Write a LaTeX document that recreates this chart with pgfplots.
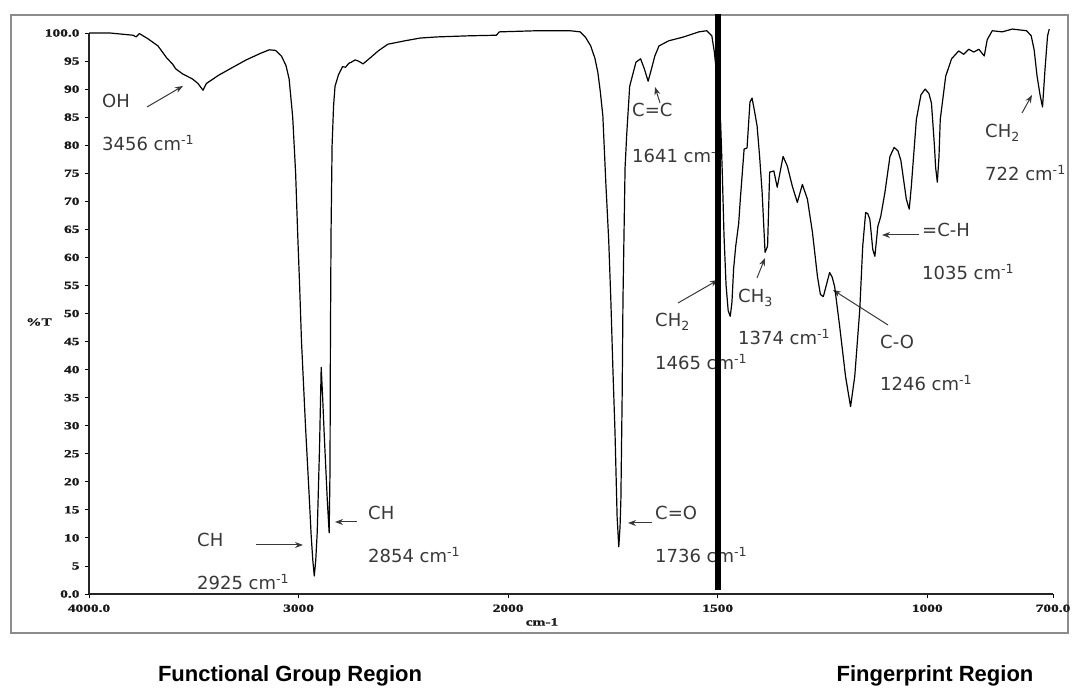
\documentclass[border=0pt]{standalone}
\usepackage{fontspec}
\usepackage{pgfplots}
\usepackage{pgfplotstable}
\pgfplotsset{compat=1.18}
\usetikzlibrary{arrows.meta}
\setmainfont{DejaVu Sans}
\newfontfamily\tickfont[FakeStretch=1.4, BoldFeatures={FakeBold=1.2}]{Liberation Serif}
\newfontfamily\notefont{DejaVu Sans}
\newfontfamily\regionfont{Liberation Sans}

\definecolor{notegray}{HTML}{383838}
\definecolor{framegray}{HTML}{8C8C8C}

% IR spectrum: wavenumber (cm^-1) vs transmittance (%T)
\pgfplotstableread{
w T
4000 100.0
3900 100.0
3790 99.6
3775 99.3
3760 99.9
3720 99.0
3671 97.7
3630 95.6
3600 94.4
3586 93.6
3553 92.7
3506 91.8
3480 91.0
3456 89.8
3440 91.0
3380 92.5
3313 93.9
3250 95.2
3180 96.4
3140 97.0
3110 96.9
3082 95.9
3060 94.2
3045 91.8
3028 85.0
3014 75.0
3004 64.0
2995 55.0
2986 45.0
2967 30.0
2950 18.0
2940 10.5
2932 6.0
2925 3.2
2918 6.0
2911 11.0
2900 26.0
2892 40.4
2885 35.0
2878 28.8
2863 16.8
2854 10.9
2850 22.0
2848 45.0
2845 64.5
2840 80.0
2833 87.0
2826 90.5
2810 92.5
2790 94.0
2776 93.9
2760 94.6
2748 94.8
2730 95.2
2715 95.0
2692 94.5
2654 95.7
2620 96.8
2574 98.0
2494 98.6
2419 99.1
2339 99.3
2184 99.5
2056 99.6
2042 100.2
1932 100.4
1852 100.4
1828 100.2
1815 99.2
1803 97.7
1793 95.5
1786 93.0
1780 89.5
1774 85.2
1767 73.4
1760 63.0
1755 52.5
1750 40.0
1745 28.8
1740 13.8
1736 8.4
1733 12.0
1731 16.8
1728 35.0
1726 52.5
1721 76.0
1717 82.0
1710 90.5
1695 94.8
1684 95.4
1675 93.6
1666 91.4
1658 93.6
1650 95.9
1640 97.7
1617 98.6
1581 99.3
1545 100.2
1526 100.4
1514 99.5
1508 96.6
1503 93.0
1498 88.0
1493 84.0
1489 75.0
1485 64.0
1480 55.0
1475 50.5
1470 49.5
1466 52.0
1462 58.0
1457 62.0
1450 66.0
1446 70.4
1437 79.3
1430 79.5
1423 87.7
1418 88.4
1412 86.0
1406 83.4
1400 78.0
1394 71.6
1387 60.9
1381 62.0
1376 75.2
1366 75.4
1358 72.5
1344 78.0
1334 76.3
1322 72.7
1310 69.8
1298 73.0
1286 70.4
1274 64.5
1262 56.6
1255 53.4
1248 53.0
1241 55.0
1233 57.3
1227 56.5
1221 54.8
1209 47.7
1195 38.8
1183 33.4
1173 38.8
1161 50.7
1154 62.0
1147 68.0
1142 67.8
1137 66.8
1130 61.4
1125 60.2
1118 65.5
1111 67.3
1101 71.6
1089 78.0
1079 79.6
1070 79.0
1063 77.3
1050 70.4
1043 68.6
1038 72.7
1026 84.6
1015 89.0
1005 90.0
996 89.2
990 87.5
983 80.0
980 76.0
976 73.4
972 78.0
969 84.6
956 92.3
942 95.4
925 96.8
913 96.2
901 97.1
889 96.6
877 97.1
864 95.9
857 98.8
845 100.4
821 100.2
797 100.7
763 100.4
752 99.5
745 97.0
738 92.3
731 89.0
725 86.8
719 93.6
713 99.5
709 100.7
}\spectrum

\tikzset{
  note/.style={font=\notefont\fontsize{18}{20}\selectfont, text=notegray, inner sep=0pt, anchor=west},
  pointer/.style={notegray, line width=1pt, -{Stealth[length=8pt,width=6pt]}},
  ticktext/.style={font=\tickfont\bfseries\fontsize{11}{13}\selectfont, text=black!90},
}

\begin{document}
\begin{tikzpicture}[x=1pt,y=1pt]
\useasboundingbox (0,0) rectangle (1073,695);

% outer frame
\draw[framegray, line width=1.6pt] (11,680) rectangle (1068,62);

% peak assignments (page coordinates, y measured downward)
\begin{scope}[shift={(0,695)}, y=-1pt]
  \node[note] at (102,101) {OH};
  \draw[pointer] (147,107) -- (183,86);
  \node[note] at (102,143) {3456 cm\textsuperscript{-1}};

  \node[note] at (197,540) {CH};
  \draw[pointer] (256,545) -- (303,545);
  \node[note] at (197,582) {2925 cm\textsuperscript{-1}};

  \node[note] at (368,513) {CH};
  \draw[pointer] (357,522) -- (335,522);
  \node[note] at (368,555) {2854 cm\textsuperscript{-1}};

  \node[note] at (655,513) {C=O};
  \draw[pointer] (652,523) -- (628,523);
  \node[note] at (655,555) {1736 cm\textsuperscript{-1}};

  \node[note] at (632,110) {C=C};
  \draw[pointer] (660,103) -- (655,87);
  \node[note] at (632,155) {1641 cm\textsuperscript{-1}};

  \node[note] at (655,322) {CH\textsubscript{2}};
  \draw[pointer] (678,303) -- (718,280);
  \node[note] at (655,362) {1465 cm\textsuperscript{-1}};

  \node[note] at (738,298) {CH\textsubscript{3}};
  \draw[pointer] (757,278) -- (765,258);
  \node[note] at (738,337) {1374 cm\textsuperscript{-1}};

  \node[note] at (880,342) {C-O};
  \draw[pointer] (888,325) -- (833,290);
  \node[note] at (880,383) {1246 cm\textsuperscript{-1}};

  \node[note] at (922,230) {=C-H};
  \draw[pointer] (919,235) -- (882,235);
  \node[note] at (922,272) {1035 cm\textsuperscript{-1}};

  \node[note] at (985,133) {CH\textsubscript{2}};
  \draw[pointer] (1022,113) -- (1032,95);
  \node[note] at (985,173) {722 cm\textsuperscript{-1}};

  \node[ticktext] at (39,322) {\%T};
  \node[ticktext] at (542,622) {cm-1};

  \node[font=\regionfont\bfseries\fontsize{22}{24}\selectfont] at (290,676) {Functional Group Region};
  \node[font=\regionfont\bfseries\fontsize{22}{24}\selectfont] at (935,676) {Fingerprint Region};
\end{scope}

\begin{axis}[
  at={(89pt,101pt)}, anchor=south west,
  scale only axis, width=964pt, height=561pt,
  xmin=0, xmax=4600, ymin=0, ymax=100,
  axis lines*=left,
  axis line style={line width=1.1pt, black!85, -},
  clip=false,
  xtick={0,1000,2000,3000,4000,4600},
  xticklabels={4000.0,3000,2000,1500,1000,700.0},
  ytick={0,5,...,100},
  yticklabels={0.0,5,10,15,20,25,30,35,40,45,50,55,60,65,70,75,80,85,90,95,100.0},
  tick align=outside,
  major tick length=4pt,
  tick style={line width=0.8pt, black},
  ticklabel style={ticktext},
  xticklabel style={yshift=-3pt},
  yticklabel style={xshift=-2pt},
]
% abscissa runs at twice the scale below 2000 cm^-1
\addplot[black, line width=1.2pt, line join=round]
  table[x expr={\thisrow{w}>=2000 ? 4000-\thisrow{w} : 6000-2*\thisrow{w}}, y=T] {\spectrum};
% divider between the two regions at 1500 cm^-1
\draw[black, line width=6pt] (axis cs:3000,0.7) -- (axis cs:3000,103.3);
\end{axis}
\end{tikzpicture}
\end{document}
